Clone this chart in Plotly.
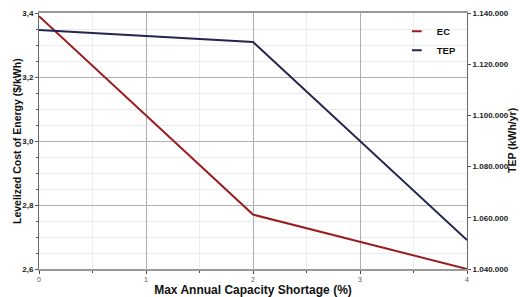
import plotly.graph_objects as go

shortage = [0, 2, 4]
ec = [3.39, 2.77, 2.60]
tep = [1133400, 1128700, 1051300]

x_ticks = [0, 1, 2, 3, 4]
left_ticks = [2.6, 2.8, 3.0, 3.2, 3.4]
right_ticks = [1040000, 1060000, 1080000, 1100000, 1120000, 1140000]

FONT = "Liberation Sans, Arial, sans-serif"
EC_COLOR = "#9b1c1f"
TEP_COLOR = "#23264f"

fig = go.Figure()
fig.add_trace(go.Scatter(x=shortage, y=ec, name="EC", mode="lines", showlegend=False,
                         line=dict(color=EC_COLOR, width=2), yaxis="y"))
fig.add_trace(go.Scatter(x=shortage, y=tep, name="TEP", mode="lines", showlegend=False,
                         line=dict(color=TEP_COLOR, width=2), yaxis="y2"))
# legend entries with short line symbols
for name, col in (("EC", EC_COLOR), ("TEP", TEP_COLOR)):
    fig.add_trace(go.Scatter(x=[None], y=[None], name=name, mode="markers",
                             marker=dict(symbol="line-ew-open", size=7, color=col,
                                         line=dict(color=col, width=2))))

title_font = dict(family=FONT, size=10.5, weight="bold", color="#111")

fig.update_layout(
    width=520, height=297,
    margin=dict(l=39, r=53, t=13, b=28),
    paper_bgcolor="white", plot_bgcolor="white",
    separators=",.",
    font=dict(family=FONT, color="#222"),
    showlegend=True,
    legend=dict(x=0.836, y=0.985, xanchor="left", yanchor="top",
                bgcolor="rgba(0,0,0,0)", font=dict(size=9.5, weight="bold", color="#111"),
                itemwidth=30, tracegroupgap=6),
    xaxis=dict(
        range=[0, 4], tickvals=x_ticks, ticks="outside", ticklen=3, automargin=False,
        tickfont=dict(size=7, color="#555"),
        showgrid=True, gridcolor="#b0b0b0", gridwidth=1,
        minor=dict(dtick=0.5, showgrid=True, gridcolor="#ececec", ticks="outside", ticklen=2),
        showline=True, linecolor="#999", linewidth=2, mirror=True,
        zeroline=False,
        title=dict(text="Max Annual Capacity Shortage (%)", standoff=1,
                   font=dict(size=12, weight="bold", color="#111")),
    ),
    yaxis=dict(
        range=[2.6, 3.4], tickvals=left_ticks, tickformat=".1f", automargin=False,
        ticks="outside", ticklen=3, tickcolor="#555",
        tickfont=dict(size=8, weight="bold", color="#222"),
        showgrid=True, gridcolor="#b0b0b0", gridwidth=1,
        minor=dict(dtick=0.05, showgrid=True, gridcolor="#ececec", ticks="outside", ticklen=2),
        showline=True, linecolor="#666", linewidth=1,
        zeroline=False,
    ),
    yaxis2=dict(
        range=[1040000, 1140000], tickvals=right_ticks, tickformat=",d", automargin=False,
        overlaying="y", side="right",
        ticks="outside", ticklen=3, tickcolor="#555",
        tickfont=dict(size=8, weight="bold", color="#222"),
        showgrid=False,
        showline=True, linecolor="#666", linewidth=1,
        zeroline=False,
    ),
    annotations=[
        dict(text="Levelized Cost of Energy ($/kWh)", textangle=-90,
             xref="paper", yref="paper", x=0, y=0.5, xshift=-22,
             xanchor="center", yanchor="middle", showarrow=False, font=title_font),
        dict(text="TEP (kWh/yr)", textangle=-90,
             xref="paper", yref="paper", x=1, y=0.5, xshift=45,
             xanchor="center", yanchor="middle", showarrow=False, font=title_font),
    ],
)

fig.write_html("out.html", config={"displayModeBar": False},
               post_script="document.body.style.margin='0';")
